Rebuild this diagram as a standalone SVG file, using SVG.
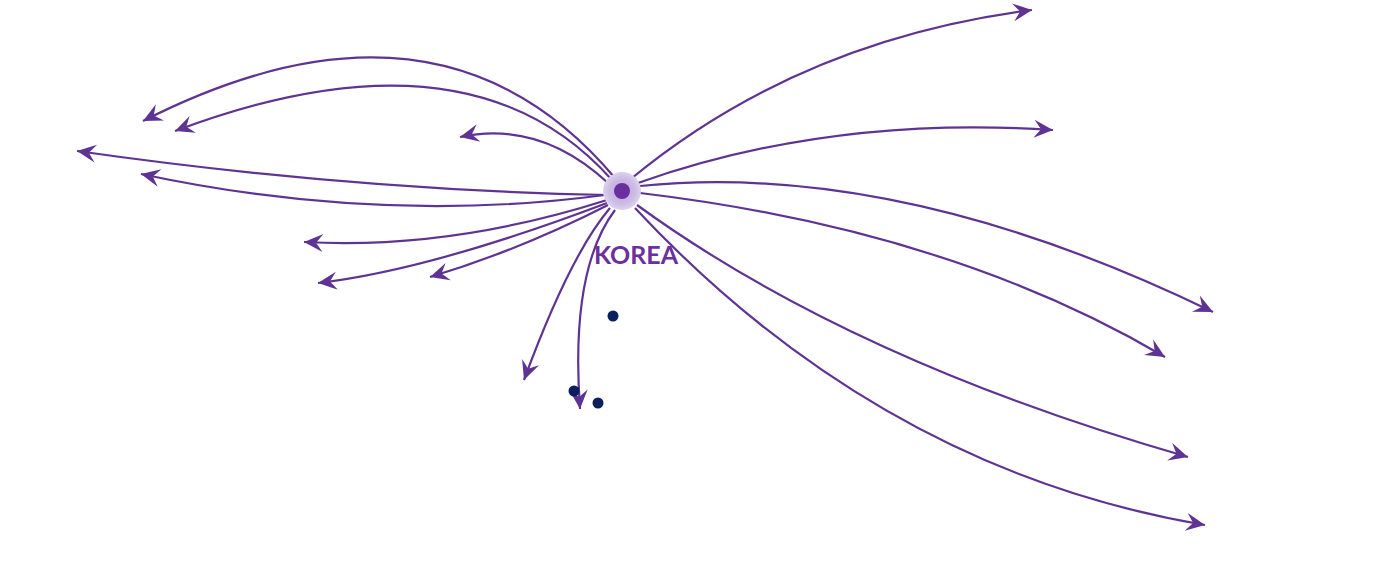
<svg xmlns="http://www.w3.org/2000/svg" width="1375" height="573" viewBox="0 0 1375 573">
<defs>
<style>
.c{fill:none;stroke:#5f3393;stroke-width:2.2}
.dot{fill:#0b1f5c}
.lbl{font-family:"Lato","Liberation Sans",sans-serif;font-weight:bold;font-size:25px;fill:#6b2fa0}
</style>
<marker id="ah" viewBox="-21 -11 23 22" refX="0" refY="0" markerWidth="23" markerHeight="22" markerUnits="userSpaceOnUse" orient="auto">
<path d="M0,0 L-19,-9 L-12,0 L-19,9 Z" fill="#5f3393"/>
</marker>
<radialGradient id="glow">
<stop offset="0" stop-color="#bda6dc"/>
<stop offset="0.7" stop-color="#cdbde5"/>
<stop offset="1" stop-color="#ddd2ee"/>
</radialGradient>
</defs>
<rect width="1375" height="573" fill="#ffffff"/>
<g id="connectors">
<path class="c" marker-end="url(#ah)" d="M615,178 Q440,-30 143,121"/>
<path class="c" marker-end="url(#ah)" d="M612,180 Q470,20 175,131"/>
<path class="c" marker-end="url(#ah)" d="M608,183 Q540,120 460,137"/>
<path class="c" marker-end="url(#ah)" d="M608,195 Q350,190 77,151"/>
<path class="c" marker-end="url(#ah)" d="M605,195 Q380,225 141,174"/>
<path class="c" marker-end="url(#ah)" d="M607,200 Q450,250 304,242"/>
<path class="c" marker-end="url(#ah)" d="M607,203 Q430,270 318,283"/>
<path class="c" marker-end="url(#ah)" d="M608,205 Q520,250 430,277"/>
<path class="c" marker-end="url(#ah)" d="M610,208 Q570,255 524,380"/>
<path class="c" marker-end="url(#ah)" d="M615,210 Q570,270 580,409"/>
<path class="c" marker-end="url(#ah)" d="M632,178 Q800,40 1032,10"/>
<path class="c" marker-end="url(#ah)" d="M638,183 Q830,115 1053,130"/>
<path class="c" marker-end="url(#ah)" d="M640,186 Q900,160 1213,312"/>
<path class="c" marker-end="url(#ah)" d="M640,193 Q950,230 1165,357"/>
<path class="c" marker-end="url(#ah)" d="M637,205 Q850,360 1188,457"/>
<path class="c" marker-end="url(#ah)" d="M635,208 Q880,470 1205,525"/>
</g>
<g id="korea">
<circle cx="622" cy="191" r="19" fill="url(#glow)"/>
<circle cx="622" cy="191" r="8" fill="#6a2f9e"/>
<text class="lbl" x="636" y="264" text-anchor="middle">KOREA</text>
</g>
<g id="dots">
<circle class="dot" cx="613" cy="316" r="5.5"/>
<circle class="dot" cx="574" cy="391" r="5.5"/>
<circle class="dot" cx="598" cy="403" r="5.5"/>
</g>
</svg>
